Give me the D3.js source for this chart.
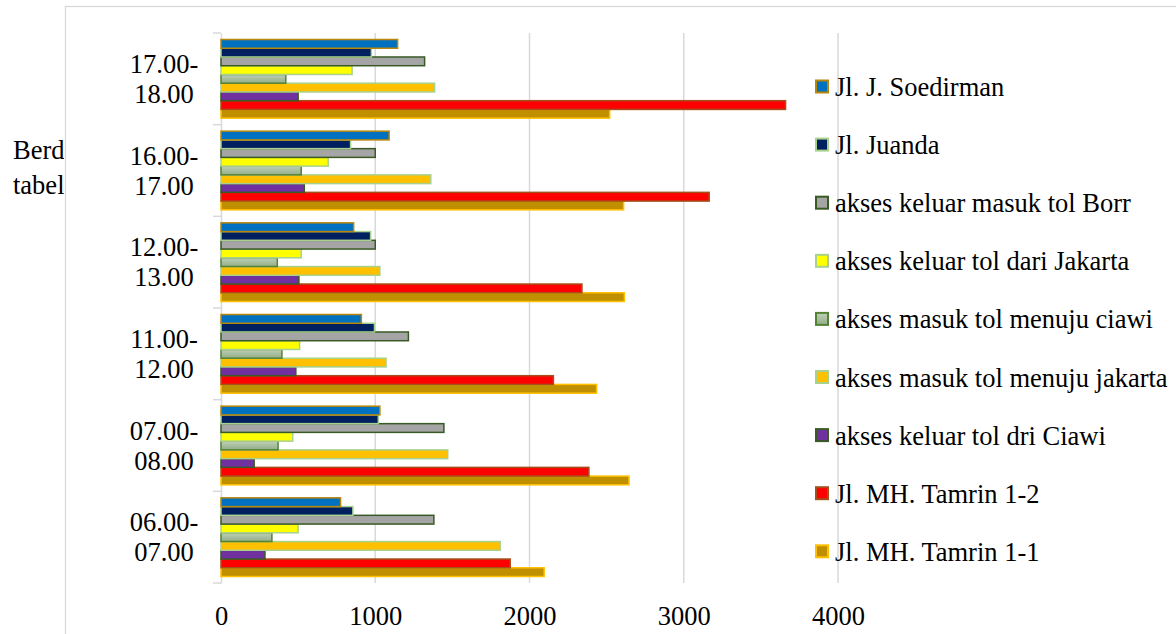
<!DOCTYPE html>
<html>
<head>
<meta charset="utf-8">
<script src="https://cdn.jsdelivr.net/npm/d3@7"></script>
<style>
  html, body { margin: 0; padding: 0; background: #ffffff; }
  svg { display: block; }
  text { font-family: "Liberation Serif", "Times New Roman", serif; fill: #000; }
</style>
</head>
<body>
<svg id="chart" width="1176" height="634"></svg>
<script>
// Time slots, bottom to top on the category axis
const categories = ["06.00-07.00", "07.00-08.00", "11.00-12.00", "12.00-13.00", "16.00-17.00", "17.00-18.00"];
const categoryLines = [["06.00-", "07.00"], ["07.00-", "08.00"], ["11.00-", "12.00"], ["12.00-", "13.00"], ["16.00-", "17.00"], ["17.00-", "18.00"]];

// Series names in plotting order (first series sits at the bottom of each group)
const seriesNames = [
  "Jl. MH. Tamrin 1-1",
  "Jl. MH. Tamrin 1-2",
  "akses keluar tol dri Ciawi",
  "akses masuk tol menuju jakarta",
  "akses masuk tol menuju ciawi",
  "akses keluar tol dari Jakarta",
  "akses keluar masuk tol Borr",
  "Jl. Juanda",
  "Jl. J. Soedirman"
];

// Traffic volumes per series, one value per time slot (same order as categories)
const tamrin11   = [2095, 2645, 2435, 2615, 2610, 2520];
const tamrin12   = [1875, 2385, 2155, 2340, 3165, 3660];
const keluarCiawi = [285, 215, 485, 505, 540, 500];
const masukJakarta = [1810, 1470, 1070, 1030, 1360, 1385];
const masukCiawi = [330, 370, 395, 365, 520, 420];
const keluarJakarta = [500, 465, 510, 520, 695, 850];
const borr       = [1380, 1445, 1215, 1000, 1000, 1320];
const juanda     = [855, 1020, 995, 970, 840, 975];
const soedirman  = [775, 1030, 910, 860, 1090, 1145];

const seriesValues = [tamrin11, tamrin12, keluarCiawi, masukJakarta, masukCiawi, keluarJakarta, borr, juanda, soedirman];

const xTicks = [0, 1000, 2000, 3000, 4000];

// Surrounding document text partly hidden behind the chart frame
const bodyLines = ["Berd", "tabel"];

// Fill / outline per series
const fills = ["#BF8F00", "#FF0000", "#7030A0", "#FFC000", "url(#ciawiGrad)", "#FFFF00", "#A5A5A5", "#002060", "#0070C0"];
const strokes = ["#FFC000", "#A5501C", "#3A5A25", "#A9D18E", "#548235", "#A9D18E", "#3A5A25", "#A9D18E", "#B8860B"];

const svg = d3.select("#chart");
const W = 1176, H = 634;

const defs = svg.append("defs");
const grad = defs.append("linearGradient").attr("id", "ciawiGrad")
  .attr("x1", 0).attr("y1", 0).attr("x2", 0).attr("y2", 1);
grad.append("stop").attr("offset", "0%").attr("stop-color", "#BFD0B8");
grad.append("stop").attr("offset", "100%").attr("stop-color", "#93AD88");

defs.append("clipPath").attr("id", "outsideClip")
  .append("rect").attr("x", 0).attr("y", 0).attr("width", 64).attr("height", H);

// Document text that runs underneath the chart frame
svg.append("g").attr("clip-path", "url(#outsideClip)")
  .selectAll("text")
  .data(bodyLines)
  .join("text")
  .attr("x", 13)
  .attr("y", (d, i) => 159 + i * 35)
  .attr("font-size", 26.5)
  .text(d => d);

// Chart frame
svg.append("rect")
  .attr("x", 65.5).attr("y", 6.5).attr("width", W).attr("height", H)
  .attr("fill", "#ffffff").attr("stroke", "#D9D9D9").attr("stroke-width", 1.3);

const plot = { left: 221, right: 838, top: 33, bottom: 583 };

const x = d3.scaleLinear().domain([0, 4000]).range([plot.left, plot.right]);

const y0 = d3.scaleBand()
  .domain(categories.slice().reverse())
  .range([plot.top, plot.bottom])
  .padding(0);

const groupPad = 6.5;
const y1 = d3.scaleBand()
  .domain(seriesNames.slice().reverse())
  .range([groupPad, y0.bandwidth() - groupPad])
  .padding(0);

// Vertical gridlines
svg.append("g")
  .selectAll("line")
  .data(xTicks.filter(d => d > 0))
  .join("line")
  .attr("x1", d => x(d)).attr("x2", d => x(d))
  .attr("y1", plot.top).attr("y2", plot.bottom)
  .attr("stroke", "#D9D9D9").attr("stroke-width", 1.5);

// Category axis line with tick marks between groups
const yAxis = d3.axisLeft(y0).tickSize(0).tickFormat("");
const yAxisG = svg.append("g").attr("transform", `translate(${plot.left},0)`).call(yAxis);
yAxisG.select(".domain").attr("stroke", "#D9D9D9").attr("stroke-width", 1.5);
const boundaries = d3.range(categories.length + 1).map(i => plot.top + i * y0.bandwidth());
svg.append("g")
  .selectAll("line")
  .data(boundaries)
  .join("line")
  .attr("x1", plot.left - 8).attr("x2", plot.left)
  .attr("y1", d => d).attr("y2", d => d)
  .attr("stroke", "#D9D9D9").attr("stroke-width", 1.5);

// Category labels (two lines each)
const catLabel = svg.append("g").selectAll("text")
  .data(categories)
  .join("text")
  .attr("text-anchor", "middle")
  .attr("font-size", 26.5)
  .attr("x", 164)
  .attr("y", d => y0(d) + y0.bandwidth() / 2);
catLabel.each(function (d, i) {
  const t = d3.select(this);
  t.append("tspan").attr("x", 164).attr("dy", -6).text(categoryLines[i][0]);
  t.append("tspan").attr("x", 164).attr("dy", 30).text(categoryLines[i][1]);
});

// Bars
const barsG = svg.append("g");
seriesNames.forEach((name, si) => {
  barsG.append("g")
    .selectAll("rect")
    .data(categories.map((c, ci) => ({ cat: c, value: seriesValues[si][ci] })))
    .join("rect")
    .attr("x", x(0))
    .attr("y", d => y0(d.cat) + y1(name))
    .attr("width", d => x(d.value) - x(0))
    .attr("height", y1.bandwidth())
    .attr("fill", fills[si])
    .attr("stroke", strokes[si])
    .attr("stroke-width", 1.5);
});

// Value axis labels
const xAxis = d3.axisBottom(x).tickValues(xTicks).tickSize(0).tickFormat(d3.format("d"));
const xAxisG = svg.append("g").attr("transform", `translate(0,${plot.bottom})`).call(xAxis);
xAxisG.select(".domain").remove();
xAxisG.selectAll("text")
  .attr("font-size", 26.5)
  .attr("font-family", "Liberation Serif, Times New Roman, serif")
  .attr("fill", "#000")
  .attr("dy", 0)
  .attr("y", 42);

// Legend, top to bottom in reverse plotting order
const legendOrder = d3.range(seriesNames.length).reverse();
const legend = svg.append("g")
  .selectAll("g")
  .data(legendOrder)
  .join("g")
  .attr("transform", (si, i) => `translate(815,${87 + i * 58.1})`);
legend.append("rect")
  .attr("x", 1).attr("y", -6.5)
  .attr("width", 12).attr("height", 12)
  .attr("fill", si => fills[si])
  .attr("stroke", si => strokes[si])
  .attr("stroke-width", 2);
legend.append("text")
  .attr("x", 20).attr("y", 9)
  .attr("font-size", 26.5)
  .text(si => seriesNames[si]);
</script>
</body>
</html>
